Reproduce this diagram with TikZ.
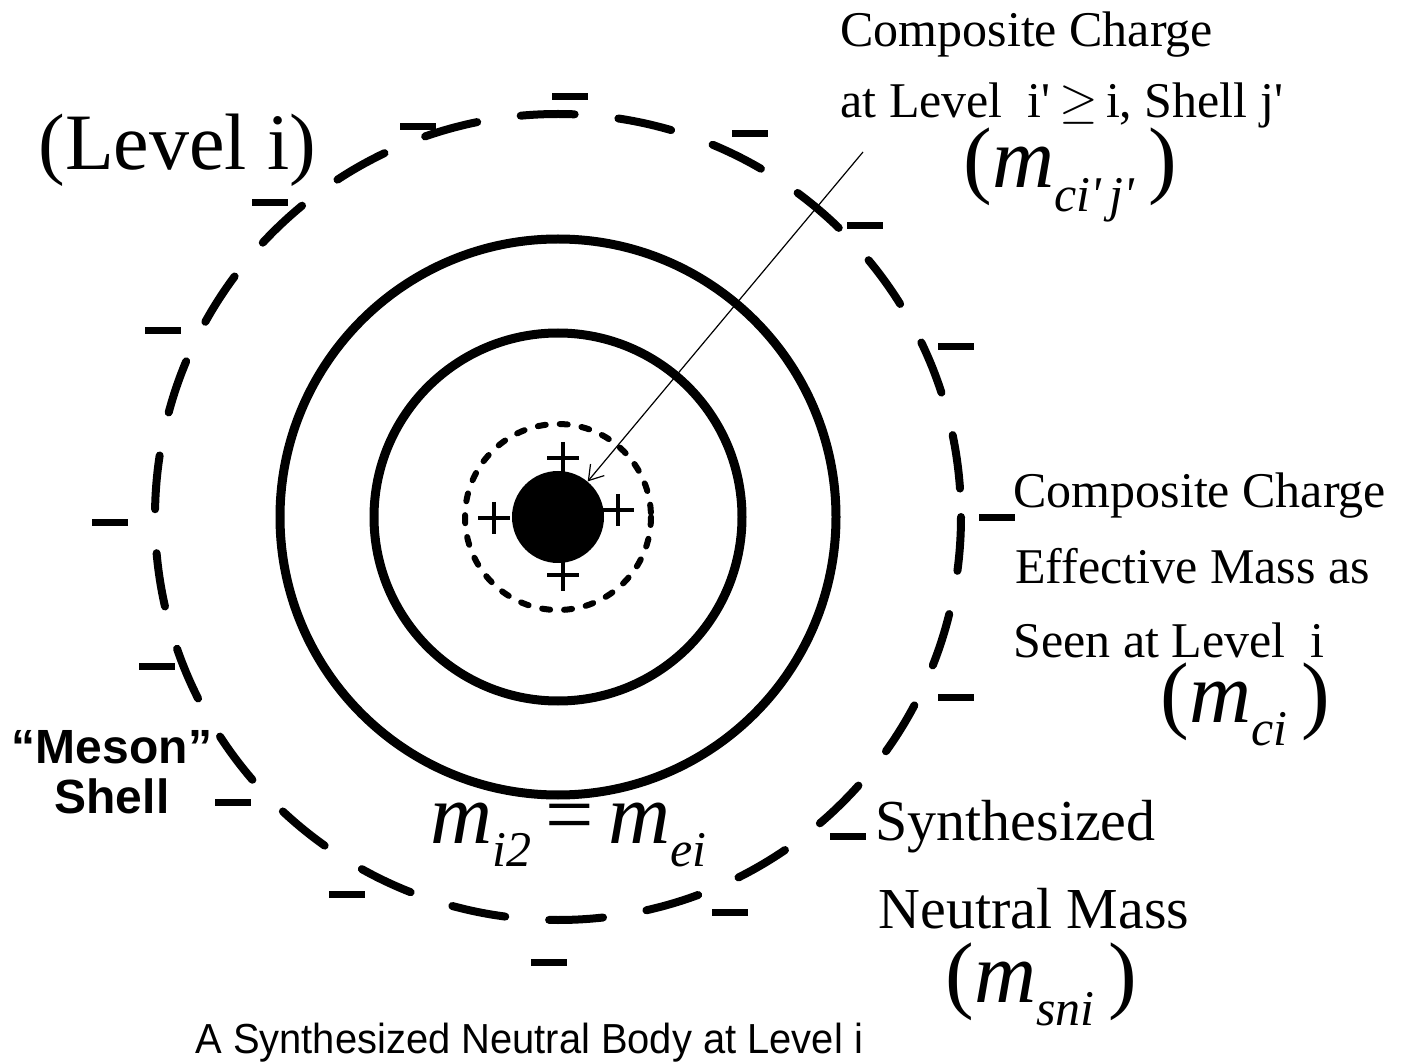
\documentclass[tikz,border=0pt]{standalone}
\usepackage{fontspec}
\setmainfont{Liberation Serif}[Ligatures=TeXOff]
\setsansfont{Liberation Sans}
\newfontfamily\capfont{Liberation Sans}[FakeStretch=0.95]
\usetikzlibrary{arrows.meta}

\newcommand{\msub}[1]{\raisebox{-.27em}{\fontsize{25}{25}\selectfont\itshape #1}}
\newcommand{\mvar}[1]{\textit{m}\msub{#1}}

\begin{document}
\begin{tikzpicture}[x=.5pt,y=-.5pt,
    shell/.style={line width=4.5pt},
    mesonring/.style={line width=4pt,line cap=round,dash pattern=on 27pt off 22pt},
    cloud/.style={line width=3pt,line cap=round,dash pattern=on 4pt off 7pt},
    minus/.style={line width=3.5pt},
    plus/.style={line width=1.6pt},
    txt/.style={anchor=base west,inner sep=0pt,font=\fontsize{25}{30}\selectfont},
    bigtxt/.style={txt,font=\fontsize{29}{34}\selectfont},
    mtxt/.style={txt,font=\fontsize{43}{50}\selectfont}]
  \useasboundingbox (0,0) rectangle (1405,1064);
  \coordinate (c) at (558,517);
  % shells
  \draw[mesonring] (c) circle [radius=403];
  \draw[shell] (c) circle [radius=278];
  \draw[shell] (c) circle [radius=184];
  \draw[cloud] (c) circle [radius=93];
  \node[circle,fill,inner sep=0pt,minimum size=46pt] (core) at (c) {};
  % charges
  \foreach \x/\y in {563/458,494/518,618/510,563/575}
    \draw[plus] (\x-16,\y) -- (\x+16,\y) (\x,\y-16) -- (\x,\y+16);
  \foreach \x/\y in {570/97,418/127,750/134,865/226,270/203,163/331,956/347,110/523,
      997/518,157/666,956/697,233/802,347/894,848/836,730/912,549/962}
    \draw[minus] (\x-18,\y) -- (\x+18,\y);
  % labels
  \node[txt] (topA) at (840,47) {Composite Charge};
  \node[txt] (topB) at (840,118) {at Level\ \ i'\,$\geq$\,i, Shell j'};
  \node[mtxt] (topM) at (963,188) {(\mvar{ci'\,j'}\,)};
  \node[txt,font=\fontsize{40}{48}\selectfont] (level) at (38,170) {(Level i)};
  \node[txt] (rightA) at (1013,508) {Composite Charge};
  \node[txt] (rightB) at (1015,583) {Effective Mass as};
  \node[txt] (rightC) at (1013,657) {Seen at Level\ \ i};
  \node[mtxt] (rightM) at (1160,722) {(\mvar{ci}\,)};
  \node[bigtxt] (synA) at (875,840) {Synthesized};
  \node[bigtxt] (synB) at (878,928) {Neutral Mass};
  \node[mtxt] (synM) at (945,1002) {(\mvar{sni}\,)};
  \node[mtxt] (eqn) at (430,843) {\mvar{i2}\,=\,\mvar{ei}};
  \node[align=center,inner sep=0pt,font=\sffamily\bfseries\fontsize{24}{25}\selectfont]
    (meson) at (112,772) {“Meson”\\Shell};
  \node[txt,font=\capfont\fontsize{21}{24}\selectfont] (caption) at (195,1053)
    {A Synthesized Neutral Body at Level i};
  % pointer
  \coordinate (tail) at (863,152);
  \draw[line width=.6pt,-{Straight Barb[length=7pt,width=9pt]}] (tail) -- (core);
\end{tikzpicture}
\end{document}
